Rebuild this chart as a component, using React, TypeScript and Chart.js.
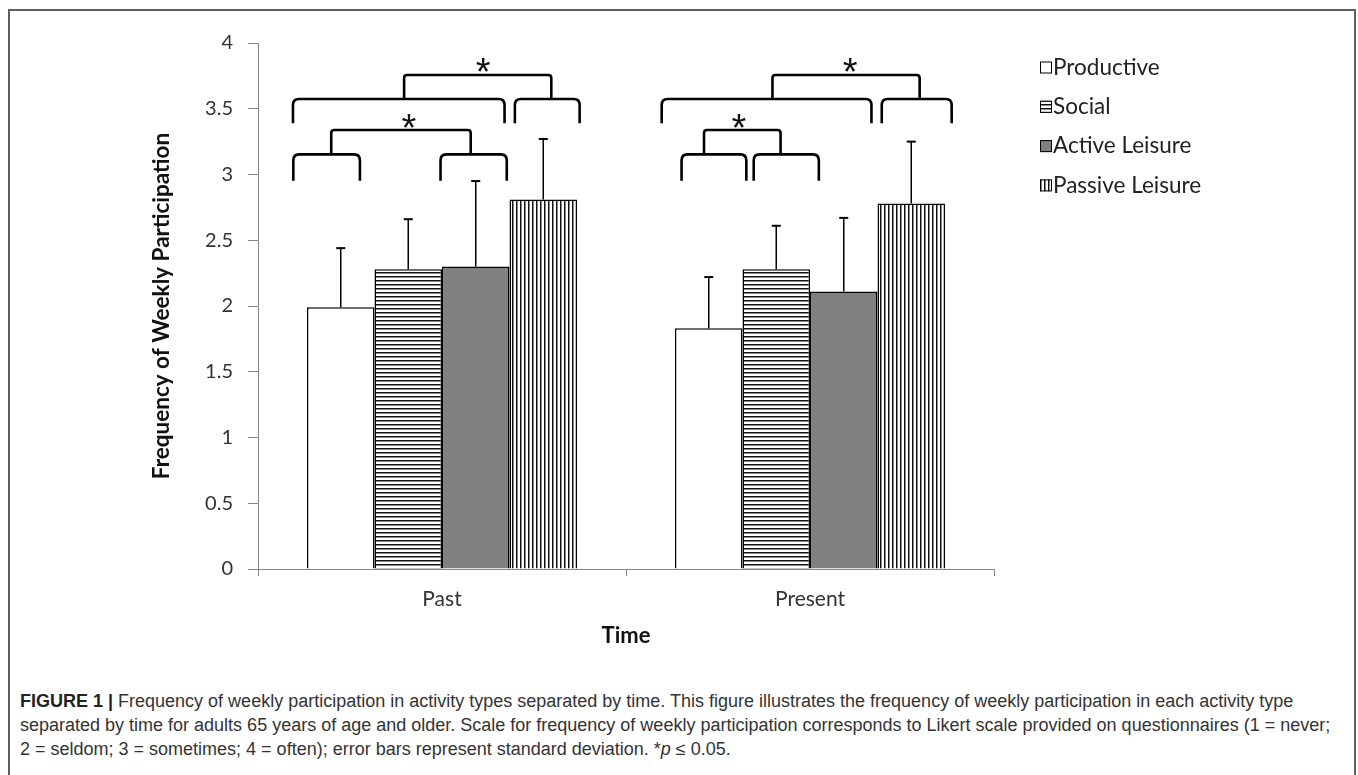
import React, { useEffect, useRef } from "react";
import { Chart, registerables } from "chart.js";

Chart.register(...registerables);

// ---------- data ----------
const categories = ["Past", "Present"];
const seriesNames = ["Productive", "Social", "Active Leisure", "Passive Leisure"];
const productive = [1.99, 1.83];
const social = [2.28, 2.28];
const activeLeisure = [2.3, 2.11];
const passiveLeisure = [2.81, 2.78];
const productiveSD = [0.45, 0.39];
const socialSD = [0.38, 0.33];
const activeLeisureSD = [0.65, 0.56];
const passiveLeisureSD = [0.46, 0.47];
const yTicks = [0, 0.5, 1, 1.5, 2, 2.5, 3, 3.5, 4];
const xTitle = "Time";
const yTitle = "Frequency of Weekly Participation";

// significance brackets, in data units (x = category index, y = value)
const lowBracketRanges = [[-0.404, -0.223], [-0.004, 0.176], [0.651, 0.827], [0.847, 1.024]];
const lowBracketY = [3.153, 2.953];
const highBracketRanges = [[-0.405, 0.17], [0.198, 0.374], [0.597, 1.167], [1.195, 1.385]];
const highBracketY = [3.574, 3.39];
const lowConnectors = [[-0.301, 0.078], [0.712, 0.92]];
const lowConnectorY = [3.338, 3.153];
const highConnectors = [[-0.103, 0.297], [0.898, 1.298]];
const highConnectorY = [3.757, 3.574];
const starX = [-0.09, 0.112, 0.807, 1.109];
const starY = [3.407, 3.833, 3.407, 3.833];

const FONT = "Lato, 'Open Sans', sans-serif";

function makePattern(dir: "h" | "v") {
  const c = document.createElement("canvas");
  c.width = 4;
  c.height = 4;
  const g = c.getContext("2d")!;
  g.fillStyle = "#ffffff";
  g.fillRect(0, 0, 4, 4);
  g.fillStyle = "#111111";
  if (dir === "h") g.fillRect(0, 0, 4, 1.5);
  else g.fillRect(0, 0, 1.5, 4);
  const ctx = document.createElement("canvas").getContext("2d")!;
  return ctx.createPattern(c, "repeat")!;
}

function drawBracket(ctx: CanvasRenderingContext2D, x1: number, x2: number, yTop: number, yBot: number, r: number) {
  ctx.beginPath();
  ctx.moveTo(x1, yBot);
  ctx.lineTo(x1, yTop + r);
  ctx.quadraticCurveTo(x1, yTop, x1 + r, yTop);
  ctx.lineTo(x2 - r, yTop);
  ctx.quadraticCurveTo(x2, yTop, x2, yTop + r);
  ctx.lineTo(x2, yBot);
  ctx.stroke();
}

const sdSets = [productiveSD, socialSD, activeLeisureSD, passiveLeisureSD];

const extrasPlugin = {
  id: "extras",
  afterDatasetsDraw(chart: any) {
    const ctx: CanvasRenderingContext2D = chart.ctx;
    const xs = chart.scales.x;
    const ys = chart.scales.y;
    ctx.save();
    // error bars
    ctx.strokeStyle = "#000";
    ctx.lineWidth = 1.5;
    chart.data.datasets.forEach((ds: any, i: number) => {
      const meta = chart.getDatasetMeta(i);
      meta.data.forEach((el: any, j: number) => {
        const top = ys.getPixelForValue(ds.data[j] + sdSets[i][j]);
        ctx.beginPath();
        ctx.moveTo(el.x, el.y);
        ctx.lineTo(el.x, top);
        ctx.stroke();
        ctx.lineWidth = 2;
        ctx.beginPath();
        ctx.moveTo(el.x - 4.5, top);
        ctx.lineTo(el.x + 4.5, top);
        ctx.stroke();
        ctx.lineWidth = 1.5;
      });
    });
    // brackets
    ctx.strokeStyle = "#000";
    ctx.lineWidth = 2.6;
    ctx.lineCap = "butt";
    const px = (v: number) => xs.getPixelForValue(v);
    const py = (v: number) => ys.getPixelForValue(v);
    lowBracketRanges.forEach(([a, b]) => drawBracket(ctx, px(a), px(b), py(lowBracketY[0]), py(lowBracketY[1]), 6));
    highBracketRanges.forEach(([a, b]) => drawBracket(ctx, px(a), px(b), py(highBracketY[0]), py(highBracketY[1]), 6));
    lowConnectors.forEach(([a, b]) => drawBracket(ctx, px(a), px(b), py(lowConnectorY[0]), py(lowConnectorY[1]), 3));
    highConnectors.forEach(([a, b]) => drawBracket(ctx, px(a), px(b), py(highConnectorY[0]), py(highConnectorY[1]), 3));
    // stars
    ctx.fillStyle = "#111";
    ctx.font = "38px 'Liberation Sans', Arial, sans-serif";
    ctx.textAlign = "center";
    ctx.textBaseline = "alphabetic";
    const m = ctx.measureText("*");
    const off = (m.actualBoundingBoxAscent - m.actualBoundingBoxDescent) / 2;
    starX.forEach((sx, k) => {
      ctx.fillText("*", px(sx), py(starY[k]) + off);
    });
    ctx.restore();
  },
  afterDraw(chart: any) {
    const ctx: CanvasRenderingContext2D = chart.ctx;
    ctx.save();
    ctx.font = `22.5px ${FONT}`;
    ctx.textAlign = "left";
    ctx.textBaseline = "middle";
    chart.data.datasets.forEach((ds: any, i: number) => {
      const cy = 67.5 + 39.3 * i;
      const bx = 1040;
      ctx.fillStyle = ds.backgroundColor;
      ctx.fillRect(bx, cy - 6, 12, 12);
      ctx.strokeStyle = "#000";
      ctx.lineWidth = 1;
      ctx.strokeRect(bx + 0.5, cy - 5.5, 11, 11);
      ctx.fillStyle = "#222";
      ctx.fillText(ds.label, bx + 13, cy);
    });
    ctx.restore();
  },
};

export default function App() {
  const ref = useRef<HTMLCanvasElement>(null);
  useEffect(() => {
    const canvas = ref.current!;
    const hPat = makePattern("h");
    const vPat = makePattern("v");
    const common = { borderColor: "#000", borderWidth: 1.5, categoryPercentage: 0.7337, barPercentage: 1 };
    const chart = new Chart(canvas, {
      type: "bar",
      data: {
        labels: categories,
        datasets: [
          { label: seriesNames[0], data: productive, backgroundColor: "#ffffff", ...common },
          { label: seriesNames[1], data: social, backgroundColor: hPat as any, ...common },
          { label: seriesNames[2], data: activeLeisure, backgroundColor: "#808080", ...common },
          { label: seriesNames[3], data: passiveLeisure, backgroundColor: vPat as any, ...common },
        ],
      },
      options: {
        animation: false,
        responsive: false,
        devicePixelRatio: 1,
        layout: { padding: { left: 148, top: 43, right: 364, bottom: 31 } },
        plugins: { legend: { display: false }, tooltip: { enabled: false } },
        scales: {
          x: {
            grid: { drawOnChartArea: false, tickLength: 7, color: "#868686", offset: true },
            border: { color: "#868686", width: 1 },
            ticks: { font: { family: FONT, size: 21 }, color: "#333", padding: 11 },
            title: { display: true, text: xTitle, font: { family: FONT, size: 22, weight: "bold" }, color: "#111", padding: 0 },
            afterFit: (s: any) => {
              s.height = 80;
            },
          },
          y: {
            min: 0,
            max: 4,
            afterBuildTicks: (s: any) => {
              s.ticks = yTicks.map((v) => ({ value: v }));
            },
            grid: { drawOnChartArea: false, tickLength: 10, color: "#868686" },
            border: { color: "#868686", width: 1 },
            ticks: { font: { family: FONT, size: 20 }, color: "#333", padding: 15, callback: (v: any) => String(v) },
            title: { display: true, text: yTitle, font: { family: FONT, size: 22.5, weight: "bold" }, color: "#111", padding: 0 },
            afterFit: (s: any) => {
              s.width = 110;
            },
          },
        },
      },
      plugins: [extrasPlugin as any],
    });
    return () => chart.destroy();
  }, []);

  const cap: React.CSSProperties = {
    whiteSpace: "nowrap",
    height: 24,
    lineHeight: "24px",
  };

  return (
    <div style={{ position: "fixed", left: 0, top: 0, width: 1358, height: 775, overflow: "hidden", background: "#fff" }}>
      <div
        style={{
          position: "absolute",
          left: 8,
          top: 9,
          width: 1348,
          height: 800,
          border: "2px solid #5e5e5e",
          boxSizing: "border-box",
        }}
      />
      <canvas ref={ref} width={1358} height={680} style={{ position: "absolute", left: 0, top: 0, display: "block" }} />
      <div
        style={{
          position: "absolute",
          left: 20,
          top: 689,
          fontFamily: "'Liberation Sans', Arial, sans-serif",
          fontSize: 18,
          color: "#333",
        }}
      >
        <div style={cap}>
          <b style={{ color: "#222" }}>FIGURE 1 |</b> Frequency of weekly participation in activity types separated by time. This figure illustrates the frequency of weekly participation in each activity type
        </div>
        <div style={cap}>
          separated by time for adults 65 years of age and older. Scale for frequency of weekly participation corresponds to Likert scale provided on questionnaires (1 = never;
        </div>
        <div style={cap}>
          2 = seldom; 3 = sometimes; 4 = often); error bars represent standard deviation. *<i>p</i> ≤ 0.05.
        </div>
      </div>
    </div>
  );
}
